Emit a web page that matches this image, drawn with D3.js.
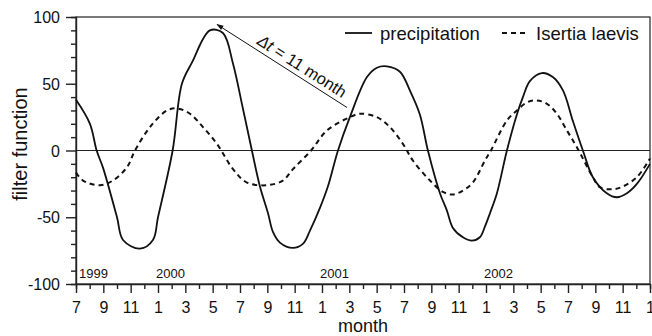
<!DOCTYPE html>
<html>
<head>
<meta charset="utf-8">
<script src="https://cdn.jsdelivr.net/npm/d3@7"></script>
<style>
    body { margin: 0; background: #fff; }
    text { font-family: "Liberation Sans", Arial, sans-serif; fill: #111; }
</style>
</head>
<body>
<div id="chart"></div>
<script>
// Month index 0 = July 1999
const precipMonth = [0, 1.02, 1.51, 1.98, 3.0, 3.44, 4.68, 5.63, 6.0, 7.07, 7.75, 8.49, 9.8, 10.75, 11.49,
    12.2, 12.87, 13.46, 14.05, 14.41, 14.92, 15.87, 16.6, 17.12, 17.85, 18.43, 19.17, 20.04, 21.29,
    22.02, 22.75, 23.7, 24.43, 25.16, 25.75, 26.63, 27.14, 27.58, 28.31, 28.97, 29.55, 29.92, 30.29,
    30.8, 31.53, 32.26, 32.7, 33.21, 34.09, 34.89, 35.63, 36.36, 37.09, 37.82, 38.84, 39.58, 40.31,
    41.04, 42];
const precipValue = [38, 20, 0, -13, -50, -67, -73.5, -67, -50, 0, 50, 66, 90, 88, 65,
    32, 0, -27, -47, -61, -69, -73, -70, -60, -43, -27, 0, 25, 55,
    62, 63, 59, 45, 27, 0, -32, -45, -58, -65, -67.5, -65, -57, -47,
    -32, 0, 27, 40, 52, 58, 55, 45, 22, 0, -20, -32, -35, -32,
    -25, -10];

const laevisMonth = [0, 0.51, 1.76, 2.7, 3.73, 4.32, 5.41, 6.66, 7.39, 8.34, 9.29, 10.31, 11.49, 12.51,
    13.97, 15.14, 15.87, 17.2, 18.36, 20.04, 20.78, 22.02, 22.97, 23.92, 24.65, 25.9, 26.85, 27.58,
    28.31, 29.04, 29.95, 30.36, 31.53, 32.26, 32.99, 33.72, 34.46, 35.19, 35.92, 36.65, 37.82, 38.33,
    39.28, 40.01, 41.04, 42];
const laevisValue = [-16.5, -22.5, -26, -22.5, -12.5, 0, 17.5, 30, 31.5, 27.5, 17.5, 5, -14, -24,
    -26, -22.5, -14, 0, 15, 25, 27.5, 25, 17.5, 5, -7.5, -22.5, -31, -33,
    -30, -24, -7, 0, 22.5, 30, 36, 37.5, 35, 27.5, 15, 2.5, -20, -27.5,
    -29, -27, -20, -6];

const monthTicks = d3.range(0, 43);
const monthLabels = ["7", "8", "9", "10", "11", "12", "1", "2", "3", "4", "5", "6"];
const yearLabels  = [{ year: "1999", month: 0 }, { year: "2000", month: 6 },
                     { year: "2001", month: 18 }, { year: "2002", month: 30 }];
const seriesNames = ["precipitation", "Isertia laevis"];

const width  = 652;
const height = 336;
const margin = { top: 17, right: 2, bottom: 52, left: 76 };

const svg = d3.select("#chart")
    .append("svg")
    .attr("width", width)
    .attr("height", height);

const x = d3.scaleLinear()
    .domain([0, 42])
    .range([margin.left, width - margin.right]);

const y = d3.scaleLinear()
    .domain([-100, 100])
    .range([height - margin.bottom, margin.top]);

// Frame (top and right)
svg.append("rect")
    .attr("x", x(0))
    .attr("y", y(100))
    .attr("width", x(42) - x(0))
    .attr("height", y(-100) - y(100))
    .attr("fill", "none")
    .attr("stroke", "#222")
    .attr("stroke-width", 1.2);

// Zero line
svg.append("line")
    .attr("x1", x(0)).attr("x2", x(42))
    .attr("y1", y(0)).attr("y2", y(0))
    .attr("stroke", "#222")
    .attr("stroke-width", 1.2);

// X axis: minor ticks every month, labels every two months
const xAxis = svg.append("g")
    .attr("transform", "translate(0," + y(-100) + ")")
    .call(d3.axisBottom(x)
        .tickValues(monthTicks)
        .tickSize(5)
        .tickFormat(""));

xAxis.selectAll(".tick")
    .filter((d) => d % 2 === 0)
    .select("line")
    .attr("y2", 9);

xAxis.selectAll(".tick")
    .filter((d) => d % 2 === 0)
    .append("text")
    .attr("y", 28.5)
    .attr("text-anchor", "middle")
    .style("font-size", "16px")
    .style("fill", "#111")
    .text((d) => monthLabels[d % 12]);

// Y axis: minor ticks every 10, labels every 50
const yAxis = svg.append("g")
    .attr("transform", "translate(" + x(0) + ",0)")
    .call(d3.axisLeft(y)
        .tickValues(d3.range(-100, 101, 10))
        .tickSize(5)
        .tickFormat(""));

yAxis.selectAll(".tick")
    .filter((d) => d % 50 === 0)
    .select("line")
    .attr("x2", -10);

yAxis.selectAll(".tick")
    .filter((d) => d % 50 === 0)
    .append("text")
    .attr("x", -16)
    .attr("dy", "0.35em")
    .attr("text-anchor", "end")
    .style("font-size", "16px")
    .style("fill", "#111")
    .text((d) => d);

svg.selectAll(".domain, .tick line")
    .attr("stroke", "#222")
    .attr("stroke-width", 1.4);

// Axis titles
svg.append("text")
    .attr("x", (x(0) + x(42)) / 2)
    .attr("y", 332.2)
    .attr("text-anchor", "middle")
    .style("font-size", "18px")
    .text("month");

svg.append("text")
    .attr("transform", "translate(27,144) rotate(-90)")
    .attr("text-anchor", "middle")
    .style("font-size", "20px")
    .text("filter function");

// Year labels
svg.selectAll("text.year")
    .data(yearLabels)
    .enter()
    .append("text")
    .attr("class", "year")
    .attr("x", (d) => x(d.month) + (d.month === 0 ? 3 : -2))
    .attr("y", y(-100) - 6)
    .style("font-size", "13px")
    .text((d) => d.year);

// Curves
const line = d3.line()
    .x((d) => x(d[0]))
    .y((d) => y(d[1]))
    .curve(d3.curveCatmullRom.alpha(0.5));

svg.append("path")
    .datum(d3.zip(precipMonth, precipValue))
    .attr("d", line)
    .attr("fill", "none")
    .attr("stroke", "#111")
    .attr("stroke-width", 1.8);

svg.append("path")
    .datum(d3.zip(laevisMonth, laevisValue))
    .attr("d", line)
    .attr("fill", "none")
    .attr("stroke", "#111")
    .attr("stroke-width", 2)
    .attr("stroke-dasharray", "5,4");

// Legend
const legend = svg.append("g");

legend.append("line")
    .attr("x1", 345).attr("x2", 372)
    .attr("y1", 33).attr("y2", 33)
    .attr("stroke", "#111")
    .attr("stroke-width", 1.8);

legend.append("text")
    .attr("x", 380)
    .attr("y", 40)
    .style("font-size", "18.5px")
    .text(seriesNames[0]);

legend.append("line")
    .attr("x1", 502).attr("x2", 528)
    .attr("y1", 33).attr("y2", 33)
    .attr("stroke", "#111")
    .attr("stroke-width", 2)
    .attr("stroke-dasharray", "5,4");

legend.append("text")
    .attr("x", 536)
    .attr("y", 40)
    .style("font-size", "18.5px")
    .text(seriesNames[1]);

// Lag annotation: arrow from precipitation peak 2001 back to peak 2000
const defs = svg.append("defs");
defs.append("marker")
    .attr("id", "arrow")
    .attr("viewBox", "0 0 10 10")
    .attr("refX", 9)
    .attr("refY", 5)
    .attr("markerWidth", 9)
    .attr("markerHeight", 7)
    .attr("orient", "auto")
    .append("path")
    .attr("d", "M0,1.5 L10,5 L0,8.5 Z")
    .attr("fill", "#111");

const ax1 = x(19.83), ay1 = y(32.2);
const ax2 = x(10.32), ay2 = y(94.4);

svg.append("line")
    .attr("x1", ax1).attr("y1", ay1)
    .attr("x2", ax2).attr("y2", ay2)
    .attr("stroke", "#111")
    .attr("stroke-width", 1)
    .attr("marker-end", "url(#arrow)");

// Text sits just above the arrow, slightly right of its middle
const angle = Math.atan2(ay1 - ay2, ax1 - ax2) * 180 / Math.PI;
const t = 0.61;
const label = svg.append("text")
    .attr("transform", "translate(" + (ax2 + (ax1 - ax2) * t) + "," + (ay2 + (ay1 - ay2) * t) + ") rotate(" + angle + ")")
    .attr("y", -5)
    .attr("text-anchor", "middle")
    .style("font-size", "16.5px");

label.append("tspan").style("font-style", "italic").text("\u0394t");
label.append("tspan").text(" = 11 month");
</script>
</body>
</html>
